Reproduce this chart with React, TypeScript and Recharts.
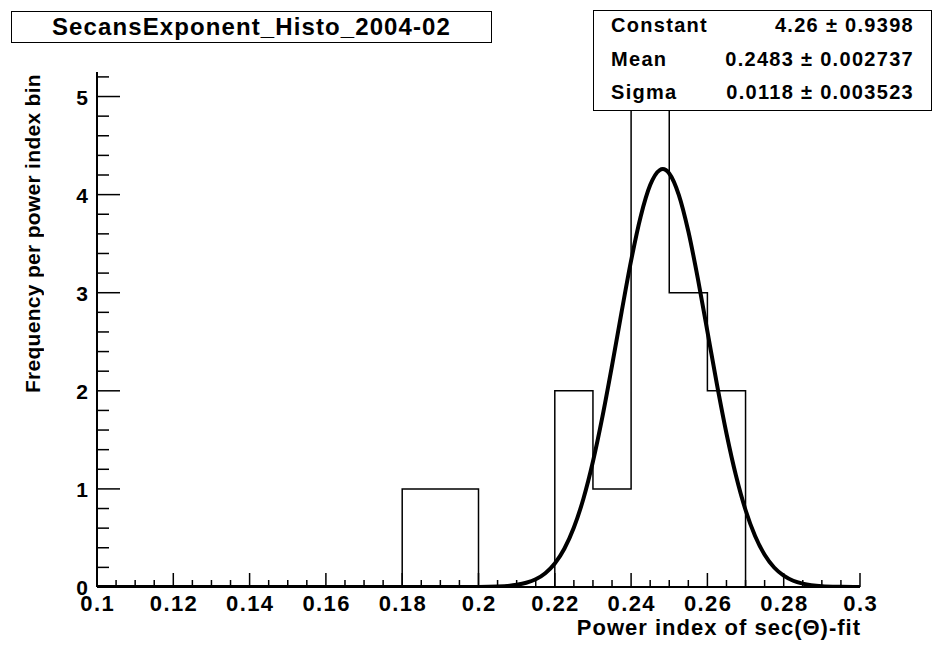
import { ComposedChart, Line, XAxis, YAxis } from 'recharts';

// histogram: lower bin edges and the count from that edge on (step outline)
const binEdges = [0.1, 0.18, 0.2, 0.22, 0.23, 0.24, 0.25, 0.26, 0.27, 0.3];
const binCounts = [0, 1, 0, 2, 1, 5, 3, 2, 0, 0];

// gaussian fit curve
const fitX = [
  0.1, 0.15, 0.19, 0.2, 0.205, 0.21, 0.2125, 0.215, 0.2175, 0.22, 0.2225, 0.225, 0.2275,
  0.23, 0.2325, 0.235, 0.2375, 0.24, 0.2425, 0.245, 0.2475, 0.2483, 0.25, 0.2525, 0.255,
  0.2575, 0.26, 0.2625, 0.265, 0.2675, 0.27, 0.2725, 0.275, 0.2775, 0.28, 0.2825, 0.285,
  0.29, 0.295, 0.3,
];
const fitY = [
  0, 0, 0, 0.001, 0.005, 0.022, 0.043, 0.079, 0.141, 0.24, 0.39, 0.606, 0.9,
  1.279, 1.739, 2.257, 2.802, 3.327, 3.775, 4.097, 4.25, 4.26, 4.216, 3.998, 3.626,
  3.144, 2.606, 2.065, 1.565, 1.134, 0.785, 0.52, 0.329, 0.199, 0.116, 0.064, 0.034,
  0.008, 0.002, 0,
];

const xTicks = [
  0.1, 0.105, 0.11, 0.115, 0.12, 0.125, 0.13, 0.135, 0.14, 0.145, 0.15, 0.155, 0.16, 0.165,
  0.17, 0.175, 0.18, 0.185, 0.19, 0.195, 0.2, 0.205, 0.21, 0.215, 0.22, 0.225, 0.23, 0.235,
  0.24, 0.245, 0.25, 0.255, 0.26, 0.265, 0.27, 0.275, 0.28, 0.285, 0.29, 0.295, 0.3,
];
const xLabels = [0.1, 0.12, 0.14, 0.16, 0.18, 0.2, 0.22, 0.24, 0.26, 0.28, 0.3];

const yTicks = [
  0, 0.2, 0.4, 0.6, 0.8, 1, 1.2, 1.4, 1.6, 1.8, 2, 2.2, 2.4, 2.6, 2.8, 3, 3.2, 3.4, 3.6,
  3.8, 4, 4.2, 4.4, 4.6, 4.8, 5, 5.2,
];
const yLabels = [0, 1, 2, 3, 4, 5];

const statNames = ['Constant', 'Mean', 'Sigma'];
const statValues = ['4.26 ± 0.9398', '0.2483 ± 0.002737', '0.0118 ± 0.003523'];

const histData = binEdges.map((x, i) => ({ x, n: binCounts[i] }));
const fitData = fitX.map((x, i) => ({ x, f: fitY[i] }));

const FONT = '"Liberation Sans", Arial, Helvetica, sans-serif';

const XTick = (props: any) => {
  const { x, y, payload } = props;
  const major = xLabels.includes(payload.value);
  return (
    <g>
      <line x1={x} x2={x} y1={y} y2={y - (major ? 14 : 7)} stroke="#000" strokeWidth={1.5} />
      {major && (
        <text
          x={x + 0.7}
          y={y + 24}
          textAnchor="middle"
          fontFamily={FONT}
          fontWeight="bold"
          fontSize={22}
          letterSpacing={1.4}
          fill="#000"
        >
          {String(payload.value)}
        </text>
      )}
    </g>
  );
};

const YTick = (props: any) => {
  const { x, y, payload } = props;
  const major = yLabels.includes(payload.value);
  return (
    <g>
      <line x1={x} x2={x + (major ? 23 : 12)} y1={y} y2={y} stroke="#000" strokeWidth={1.5} />
      {major && (
        <text x={x - 9} y={y + 8} textAnchor="end" fontFamily={FONT} fontWeight="bold" fontSize={21} fill="#000">
          {String(payload.value)}
        </text>
      )}
    </g>
  );
};

export default function App() {
  return (
    <div style={{ position: 'absolute', left: 0, top: 0, width: 933, height: 646, background: '#fff', fontFamily: FONT }}>
      <ComposedChart width={933} height={646} margin={{ top: 72, right: 73, bottom: 0, left: 0 }}>
        <XAxis
          dataKey="x"
          type="number"
          domain={[0.1, 0.3]}
          ticks={xTicks}
          interval={0}
          height={59}
          tickSize={0}
          tickMargin={0}
          tickLine={false}
          tick={<XTick />}
          axisLine={{ stroke: '#000', strokeWidth: 2 }}
          allowDataOverflow
        />
        <XAxis xAxisId="top" orientation="top" type="number" domain={[0.1, 0.3]} height={0} tick={false} tickLine={false} axisLine={{ stroke: '#000', strokeWidth: 1.5 }} />
        <YAxis
          type="number"
          domain={[0, 5.25]}
          ticks={yTicks}
          interval={0}
          width={97}
          tickSize={0}
          tickMargin={0}
          tickLine={false}
          tick={<YTick />}
          axisLine={{ stroke: '#000', strokeWidth: 2 }}
          allowDataOverflow
        />
        <YAxis yAxisId="right" orientation="right" type="number" domain={[0, 5.25]} width={0} tick={false} tickLine={false} axisLine={{ stroke: '#000', strokeWidth: 1.5 }} />
        <Line
          data={histData}
          dataKey="n"
          type="stepAfter"
          stroke="#000"
          strokeWidth={1.5}
          dot={false}
          isAnimationActive={false}
        />
        <Line
          data={fitData}
          dataKey="f"
          type="monotone"
          stroke="#000"
          strokeWidth={4}
          dot={false}
          isAnimationActive={false}
        />
      </ComposedChart>

      <div
        style={{
          position: 'absolute', left: 11, top: 11, width: 479, height: 30, border: '1.5px solid #000',
          background: '#fff', textAlign: 'center', fontWeight: 'bold', fontSize: 24, letterSpacing: 1.1,
          lineHeight: '30px', whiteSpace: 'nowrap',
        }}
      >
        SecansExponent_Histo_2004-02
      </div>

      <div
        style={{
          position: 'absolute', left: 593, top: 10, width: 337, height: 99, border: '1.5px solid #000',
          background: '#fff', fontWeight: 'bold', fontSize: 20, letterSpacing: 1.3,
        }}
      >
        {statNames.map((name, i) => (
          <div key={name} style={{ position: 'absolute', left: 17, right: 17, top: -1 + i * 33.5, height: 30, lineHeight: '30px' }}>
            <span style={{ position: 'absolute', left: 0, whiteSpace: 'nowrap' }}>{name}</span>
            <span style={{ position: 'absolute', right: 0, whiteSpace: 'nowrap' }}>{statValues[i]}</span>
          </div>
        ))}
      </div>

      <div style={{ position: 'absolute', right: 72, top: 615, fontWeight: 'bold', fontSize: 22, letterSpacing: 1, whiteSpace: 'nowrap' }}>
        Power index of sec(Θ)-fit
      </div>

      <div
        style={{
          position: 'absolute', left: 21, top: 74, width: 24, lineHeight: '24px', fontWeight: 'bold', fontSize: 21,
          letterSpacing: 0.3, whiteSpace: 'nowrap', writingMode: 'vertical-rl', transform: 'rotate(180deg)',
        }}
      >
        Frequency per power index bin
      </div>
    </div>
  );
}
